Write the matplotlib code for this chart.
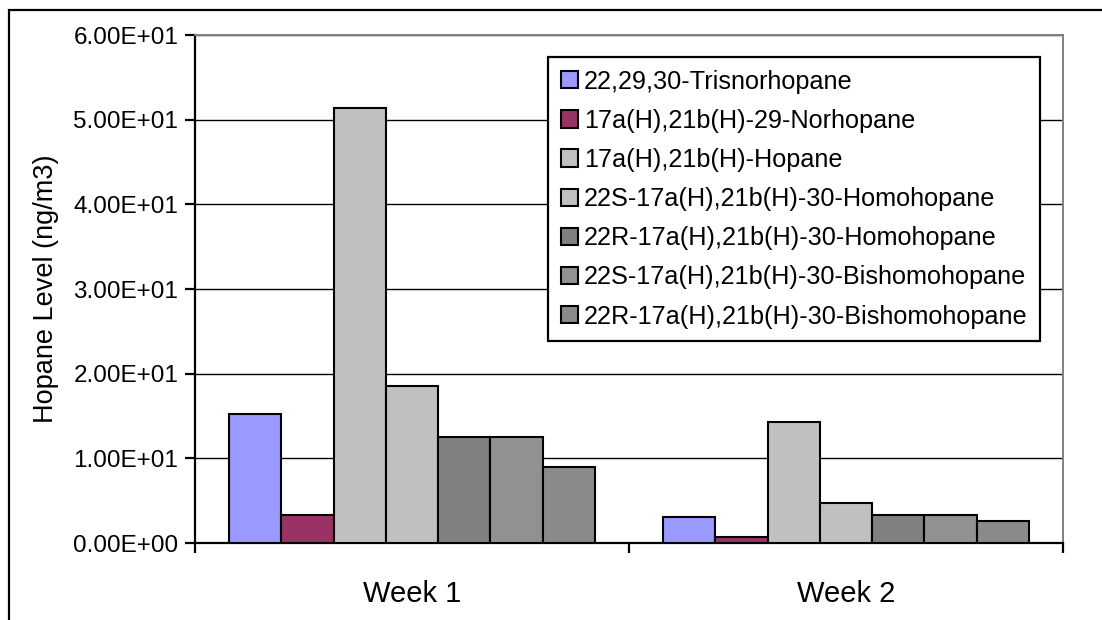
import numpy as np
import matplotlib
matplotlib.use('Agg')
import matplotlib.pyplot as plt
from matplotlib.patches import Rectangle

plt.rcParams['font.family'] = ['Liberation Sans', 'DejaVu Sans']

weeks = ['Week 1', 'Week 2']
series = ['22,29,30-Trisnorhopane',
          '17a(H),21b(H)-29-Norhopane',
          '17a(H),21b(H)-Hopane',
          '22S-17a(H),21b(H)-30-Homohopane',
          '22R-17a(H),21b(H)-30-Homohopane',
          '22S-17a(H),21b(H)-30-Bishomohopane',
          '22R-17a(H),21b(H)-30-Bishomohopane']
week1 = [15.2, 3.25, 51.4, 18.5, 12.5, 12.5, 8.95]
week2 = [3.1, 0.7, 14.25, 4.75, 3.3, 3.3, 2.6]
colors = ['#9999FF', '#993366', '#C0C0C0', '#C0C0C0', '#808080', '#919191', '#8A8A8A']
yticks = [0, 10, 20, 30, 40, 50, 60]
ytick_labels = ['0.00E+00', '1.00E+01', '2.00E+01', '3.00E+01', '4.00E+01', '5.00E+01', '6.00E+01']

W, H = 1102, 620
fig = plt.figure(figsize=(W / 100, H / 100), dpi=100)
ax = fig.add_axes([195 / W, 1 - 543 / H, (1063 - 195) / W, (543 - 35) / H])

# outer chart border (runs off the canvas on the right and bottom)
fig.patches.append(Rectangle((9 / W, -0.1), 1.2, 1 - 10 / H + 0.1, transform=fig.transFigure,
                             fill=False, edgecolor='black', linewidth=1.6, clip_on=False))

n = len(series)
w = 1 / (n + 1.3)
x = np.arange(len(weeks))
vals = np.array([week1, week2])
for i in range(n):
    ax.bar(x + (i - (n - 1) / 2) * w, vals[:, i], width=w, color=colors[i],
           edgecolor='black', linewidth=1.5, label=series[i], zorder=3)

ax.set_xlim(-0.5, 1.5)
ax.set_ylim(0, 60)
ax.set_yticks(yticks)
ax.set_yticklabels(ytick_labels, fontsize=17.5)
ax.set_xticks(x)
ax.set_xticklabels(weeks, fontsize=21)
ax.set_xticks([-0.5, 0.5, 1.5], minor=True)
ax.tick_params(axis='x', which='major', length=0, pad=27)
ax.tick_params(axis='x', which='minor', length=7, width=1.6, direction='out')
ax.tick_params(axis='y', length=7, width=1.6, direction='out', pad=5)
ax.yaxis.grid(True, color='black', linewidth=1.0, zorder=0)
ax.set_axisbelow(True)

for s in ['left', 'bottom']:
    ax.spines[s].set_linewidth(1.6)
    ax.spines[s].set_color('black')
for s in ['top', 'right']:
    ax.spines[s].set_linewidth(1.4)
    ax.spines[s].set_color('#808080')

ax.set_ylabel('Hopane Level (ng/m3)', fontsize=19.5, labelpad=10)

leg = ax.legend(loc='upper left', bbox_to_anchor=(548 / W, 1 - 57 / H),
                bbox_transform=fig.transFigure, borderaxespad=0, fontsize=18.2,
                fancybox=False, framealpha=1, edgecolor='black',
                handlelength=0.68, handleheight=0.68, handletextpad=0.25,
                labelspacing=0.6, borderpad=0.5)
leg.get_frame().set_linewidth(1.6)

fig.savefig('out.png', dpi=100)
